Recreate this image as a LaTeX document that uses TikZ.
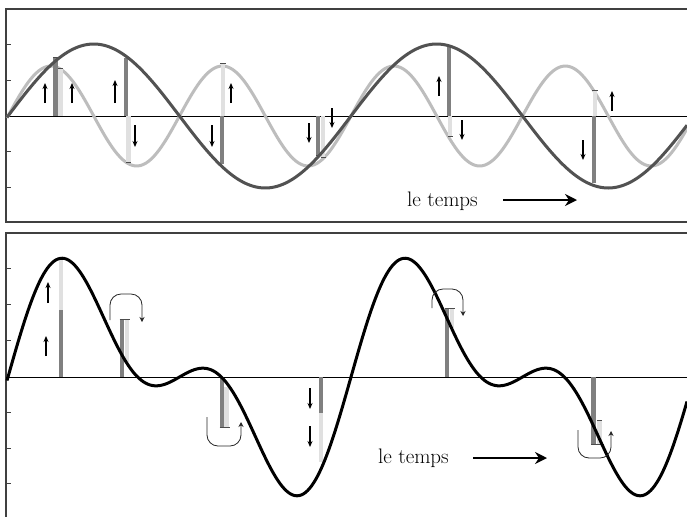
\documentclass[tikz,border=0pt]{standalone}
\usetikzlibrary{arrows.meta}
\begin{document}
\begin{tikzpicture}[x=1pt,y=-1pt,
  frameline/.style={line width=1.5pt,draw=black!75},
  axisline/.style={line width=1pt,draw=black},
  tickline/.style={line width=1pt,draw=black!75},
  darkcurve/.style={line width=3pt,draw=black!68,line join=round},
  lightcurve/.style={line width=3pt,draw=black!26,line join=round},
  sumcurve/.style={line width=3pt,draw=black,line join=round},
  darkbar/.style={line width=4.5pt,draw=black!50},
  lightbar/.style={line width=4.5pt,draw=black!12},
  endmark/.style={line width=1pt,draw=black!70},
  sarr/.style={line width=1.2pt,draw=black,-{Stealth[length=6pt,width=5pt]}},
  hookarr/.style={line width=0.8pt,draw=black!85,rounded corners=11pt,-{Stealth[length=5pt,width=5pt]}},
  timearr/.style={line width=2.6pt,draw=black,-{Stealth[length=12pt,width=12pt,inset=4pt]}},
  timelabel/.style={anchor=base west,inner sep=0pt,font=\fontsize{21}{25}\selectfont}]
\useasboundingbox[fill=white] (0,0) rectangle (687,517);

% ---------------- top panel ----------------
\draw[frameline] (687,9) -- (6,9) -- (6,222) -- (687,222);
\foreach \ty in {44,80,151,187} \draw[tickline] (6,\ty) -- (11,\ty);
\draw[axisline] (6,116) -- (687,116);

\draw[lightcurve] plot[domain=7:687,samples=260,smooth] (\x,{116-50*sin((\x-8)*2.09913)});

% bars (dark = slow wave, light = fast wave)
\draw[darkbar] (55.5,116) -- (55.5,58);
\draw[lightbar] (60.5,116) -- (60.5,68);
\draw[endmark] (53,57.5) -- (58,57.5);
\draw[endmark] (58,68) -- (63,68);

\draw[darkbar] (126,116) -- (126,58);
\draw[lightbar] (128.5,116) -- (128.5,162);
\draw[endmark] (126,162) -- (131,162);

\draw[lightbar] (223,116) -- (223,63);
\draw[darkbar] (222,116) -- (222,164);
\draw[endmark] (220,63) -- (226,63);

\draw[darkbar] (318,116) -- (318,155);
\draw[lightbar] (323,116) -- (323,157);
\draw[endmark] (316,155) -- (321,155);
\draw[endmark] (321,157.5) -- (326,157.5);

\draw[darkbar] (449,116) -- (449,47);
\draw[lightbar] (450,116) -- (450,136);
\draw[endmark] (448,136) -- (453,136);

\draw[darkbar] (594,116) -- (594,183);
\draw[lightbar] (595,116) -- (595,90);
\draw[endmark] (592,90) -- (598,90);

\draw[darkcurve] plot[domain=7:687,samples=260,smooth] (\x,{116-72*sin((\x-8)*1.04956)});

% small arrows
\draw[sarr] (45,103) -- (45,83);
\draw[sarr] (72,103) -- (72,83);
\draw[sarr] (115,103) -- (115,80);
\draw[sarr] (231,103) -- (231,83);
\draw[sarr] (439,96) -- (439,76);
\draw[sarr] (612,111) -- (612,91);
\draw[sarr] (135,125) -- (135,147);
\draw[sarr] (212,125) -- (212,147);
\draw[sarr] (309,123) -- (309,143);
\draw[sarr] (332,108) -- (332,128);
\draw[sarr] (462,120) -- (462,140);
\draw[sarr] (583,140) -- (583,160);

\node[timelabel] (t1) at (407,206) {le temps};
\coordinate (a1s) at (503,200);
\coordinate (a1e) at (577,200);
\draw[timearr] (a1s) -- (a1e);

% ---------------- bottom panel ----------------
\draw[frameline] (687,233) -- (6,233) -- (6,517);
\foreach \ty in {268,304,340,412,448,483} \draw[tickline] (6,\ty) -- (11,\ty);
\draw[axisline] (6,377) -- (687,377);

% bars
\draw[darkbar] (61,377) -- (61,310);
\draw[lightbar] (61,310) -- (61,258);

\draw[darkbar] (122,377) -- (122,319);
\draw[lightbar] (127,319) -- (127,362);
\draw[endmark] (119.5,319) -- (130,319);

\draw[darkbar] (222,377) -- (222,427);
\draw[lightbar] (226.5,427) -- (226.5,387);
\draw[endmark] (219.5,427) -- (229.5,427);

\draw[darkbar] (321,377) -- (321,413);
\draw[lightbar] (321,413) -- (321,462);

\draw[darkbar] (447,377) -- (447,308);
\draw[lightbar] (452,308) -- (452,328);
\draw[endmark] (444.5,308) -- (455,308);

\draw[darkbar] (593.5,377) -- (593.5,444);
\draw[lightbar] (599.5,444) -- (599.5,420);
\draw[endmark] (597,420) -- (602,420);
\draw[endmark] (591,444) -- (604,444);

\draw[sumcurve] plot[domain=7:687,samples=320,smooth] (\x,{377-1.12*(72*sin((\x-8)*1.04956)+50*sin((\x-8)*2.09913))});

% small arrows
\draw[sarr] (48,303) -- (48,282);
\draw[sarr] (46,356) -- (46,336);
\draw[sarr] (310,388) -- (310,409);
\draw[sarr] (310,426) -- (310,447);

% hook arrows
\draw[hookarr] (110,320) -- (110,294) -- (142,294) -- (142,322);
\draw[hookarr] (207,417) -- (207,446) -- (241,446) -- (241,422);
\draw[hookarr] (432,308) -- (432,289) -- (463,289) -- (463,316);
\draw[hookarr] (578,430) -- (578,458) -- (611,458) -- (611,431);

\node[timelabel] (t2) at (378,463) {le temps};
\coordinate (a2s) at (473,458);
\coordinate (a2e) at (547,458);
\draw[timearr] (a2s) -- (a2e);
\end{tikzpicture}
\end{document}
